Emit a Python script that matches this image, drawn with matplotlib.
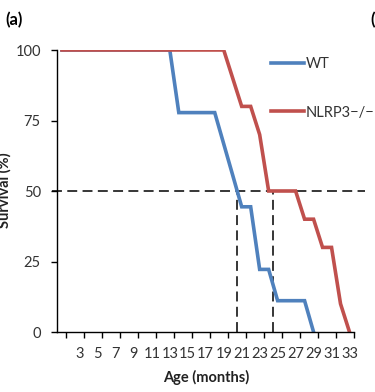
import matplotlib
matplotlib.use("Agg")
import matplotlib.pyplot as plt
import numpy as np

plt.rcParams['font.family'] = ['Lato', 'DejaVu Sans']

months_wt = list(range(1, 30))
wt = [100]*13 + [77.8, 77.8, 77.8, 77.8, 77.8, 66.7, 55.6, 44.4, 44.4, 22.2, 22.2,
                 11.1, 11.1, 11.1, 11.1, 0]
months_ko = list(range(1, 34))
ko = [100]*19 + [90, 80, 80, 70, 50, 50, 50, 50, 40, 40, 30, 30, 10, 0]
tick_labels = [str(m) for m in range(3, 34, 2)]
median_level = 50
median_wt = 20.5
median_ko = 24.5

blue = '#4F81BD'
red = '#C0504D'

fig = plt.figure(figsize=(3.75, 3.92), dpi=100)
ax = fig.add_axes([57.5/375, (392-332)/392, (354-57.5)/375, (332-50)/392])

ax.plot(months_wt, wt, color=blue, lw=2.6, label='WT', solid_joinstyle='miter')
ax.plot(months_ko, ko, color=red, lw=2.6, label='NLRP3\u2212/\u2212', solid_joinstyle='miter')

dash = (0, (6.5, 3.5))
ax.plot([-0.1, 34.7], [median_level, median_level], color='black', lw=1.1,
        linestyle=dash, clip_on=False, zorder=1)
for m in (median_wt, median_ko):
    ax.plot([m, m], [0, median_level], color='black', lw=1.1, linestyle=dash,
            clip_on=False, zorder=1)

ax.set_xlim(0.5, 33.5)
ax.set_ylim(0, 100)
ax.spines['top'].set_visible(False)
ax.spines['right'].set_visible(False)
ax.spines['left'].set_linewidth(1.0)
ax.spines['bottom'].set_linewidth(1.0)

ax.set_xticks(range(3, 34, 2))
ax.set_xticklabels(tick_labels)
ax.set_xticks(np.arange(1.5, 34, 2), minor=True)
ax.tick_params(axis='x', which='major', length=0, pad=11, labelsize=10.5)
ax.tick_params(axis='x', which='minor', length=4, width=1.0, direction='out')
ax.set_yticks([0, 25, 50, 75, 100])
ax.tick_params(axis='y', length=4, width=1.0, direction='out', pad=8, labelsize=10.5)
for lab in ax.get_xticklabels() + ax.get_yticklabels():
    lab.set_color('#333333')

ax.set_xlabel('Age (months)', fontsize=10.5, fontweight='bold', labelpad=6, color='#222222')
fig.text(4/375, 1-190/392, 'Survival (%)', rotation=90, fontsize=10.5, fontweight='bold',
         ha='center', va='center', color='#222222')

leg = ax.legend(loc='upper left', bbox_to_anchor=(0.70, 0.995), frameon=False,
                handlelength=2.3, handletextpad=0.1, labelspacing=2.35, fontsize=10.5,
                borderaxespad=0)
for t in leg.get_texts():
    t.set_color('#333333')

fig.text(5/375, 1-20/392, '(a)', fontsize=12, fontweight='bold', va='center', ha='left')
fig.text(370/375, 1-20/392, '(b)', fontsize=12, fontweight='bold', va='center', ha='left')

fig.savefig('out.png', dpi=100)
